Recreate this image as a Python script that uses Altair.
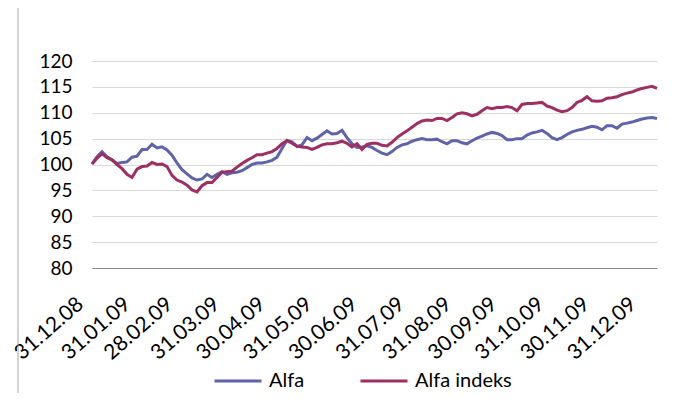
import altair as alt
import pandas as pd

series_names = ["Alfa", "Alfa indeks"]
series_colors = ["#5f63a8", "#9d2f62"]

start_date = "2008-12-31"
end_date = "2010-01-08"

alfa = [
    100.1, 101.5, 102.5, 101.5, 100.9, 100.2, 100.4, 100.5, 101.4, 101.6,
    102.9, 102.9, 103.9, 103.2, 103.4, 102.8, 101.8, 100.3, 99.0, 98.2,
    97.4, 97.0, 97.2, 98.1, 97.5, 98.1, 98.6, 98.1, 98.4, 98.5,
    98.8, 99.4, 100.0, 100.3, 100.3, 100.5, 100.8, 101.4, 103.1, 104.7,
    104.4, 103.5, 103.8, 105.2, 104.6, 105.1, 105.8, 106.5, 105.9, 106.0,
    106.6, 105.2, 104.0, 103.3, 103.4, 103.6, 103.3, 102.7, 102.2, 101.9,
    102.5, 103.3, 103.8, 104.0, 104.5, 104.8, 105.0, 104.8, 104.8, 104.9,
    104.4, 104.0, 104.6, 104.6, 104.2, 104.0, 104.6, 105.1, 105.5, 105.9,
    106.2, 106.0, 105.6, 104.8, 104.8, 105.0, 105.0, 105.7, 106.1, 106.3,
    106.6, 106.0, 105.2, 104.8, 105.2, 105.8, 106.3, 106.6, 106.8, 107.1,
    107.4, 107.2, 106.7, 107.5, 107.5, 107.0, 107.8, 108.0, 108.2, 108.5,
    108.8, 109.0, 109.1, 108.9,
]

alfa_indeks = [
    100.1, 101.2, 102.1, 101.3, 100.9, 100.0, 99.2, 98.1, 97.5, 99.1,
    99.6, 99.7, 100.4, 100.0, 100.1, 99.6, 97.9, 97.0, 96.6, 96.0,
    95.1, 94.7, 95.9, 96.5, 96.5, 97.5, 98.5, 98.6, 98.7, 99.5,
    100.2, 100.8, 101.3, 101.9, 101.9, 102.2, 102.5, 103.1, 104.0, 104.6,
    104.1, 103.5, 103.4, 103.3, 102.9, 103.3, 103.8, 104.0, 104.0, 104.2,
    104.5, 104.1, 103.4, 104.0, 102.9, 103.9, 104.1, 104.1, 103.7, 103.6,
    104.3, 105.2, 105.9, 106.5, 107.2, 107.9, 108.4, 108.6, 108.5, 108.9,
    108.9, 108.5, 109.1, 109.8, 110.0, 109.8, 109.4, 109.7, 110.4, 111.0,
    110.8, 111.0, 111.0, 111.2, 111.0, 110.4, 111.6, 111.8, 111.8, 111.9,
    112.0, 111.3, 111.0, 110.5, 110.2, 110.4, 111.0, 112.0, 112.4, 113.1,
    112.3, 112.2, 112.3, 112.8, 112.9, 113.1, 113.5, 113.8, 114.0, 114.4,
    114.7, 114.9, 115.1, 114.7,
]

tick_dates = [
    (2008, 12, 31), (2009, 1, 31), (2009, 2, 28), (2009, 3, 31),
    (2009, 4, 30), (2009, 5, 31), (2009, 6, 30), (2009, 7, 31),
    (2009, 8, 31), (2009, 9, 30), (2009, 10, 31), (2009, 11, 30),
    (2009, 12, 31),
]
y_ticks = [80, 85, 90, 95, 100, 105, 110, 115, 120]

dates = pd.date_range(start_date, end_date, periods=len(alfa))
df = pd.concat([
    pd.DataFrame({"date": dates, "value": alfa, "series": series_names[0]}),
    pd.DataFrame({"date": dates, "value": alfa_indeks, "series": series_names[1]}),
])

FONT = "Lato"
W, H = 565, 207

lines = alt.Chart(df).mark_line(strokeWidth=3).encode(
    x=alt.X(
        "date:T",
        title=None,
        scale=alt.Scale(domain=[alt.DateTime(year=2008, month=12, date=31),
                                alt.DateTime(year=2010, month=1, date=8)]),
        axis=alt.Axis(
            values=[alt.DateTime(year=y, month=m, date=d) for (y, m, d) in tick_dates],
            format="%d.%m.%y",
            labelAngle=-41,
            labelAlign="right",
            labelBaseline="top",
            labelPadding=25,
            labelOffset=-19,
            labelFont=FONT,
            labelFontSize=21,
            labelColor="#000000",
            labelOverlap=False,
            labelFlush=False,
            ticks=False,
            grid=False,
            domainColor="#868686",
            domainWidth=1,
        ),
    ),
    y=alt.Y(
        "value:Q",
        title=None,
        scale=alt.Scale(domain=[80, 120], nice=False, zero=False),
        axis=alt.Axis(
            values=y_ticks,
            labelFont=FONT,
            labelFontSize=19,
            labelColor="#000000",
            labelPadding=20,
            ticks=False,
            domain=False,
            gridColor="#d9d9d9",
            gridWidth=1,
        ),
    ),
    color=alt.Color(
        "series:N",
        scale=alt.Scale(domain=series_names, range=series_colors),
        legend=alt.Legend(
            title=None,
            orient="none",
            legendX=121,
            legendY=295,
            direction="horizontal",
            symbolType="stroke",
            symbolSize=2209,
            symbolStrokeWidth=3,
            labelFont=FONT,
            labelFontSize=20,
            labelColor="#000000",
            labelOffset=6,
            columnPadding=49,
        ),
    ),
)

border = alt.Chart(pd.DataFrame({"k": [0]})).mark_rule(color="#a6a6a6", strokeWidth=1).encode(
    x=alt.value(-74), y=alt.value(-61), y2=alt.value(345)
)

chart = alt.layer(lines, border).properties(
    width=W,
    height=H,
    autosize=alt.AutoSizeParams(type="none"),
    padding={"left": 84, "top": 53, "right": 18, "bottom": 125},
).configure_view(stroke=None)

chart.save("out.html", embed_options={"renderer": "svg", "actions": False})
